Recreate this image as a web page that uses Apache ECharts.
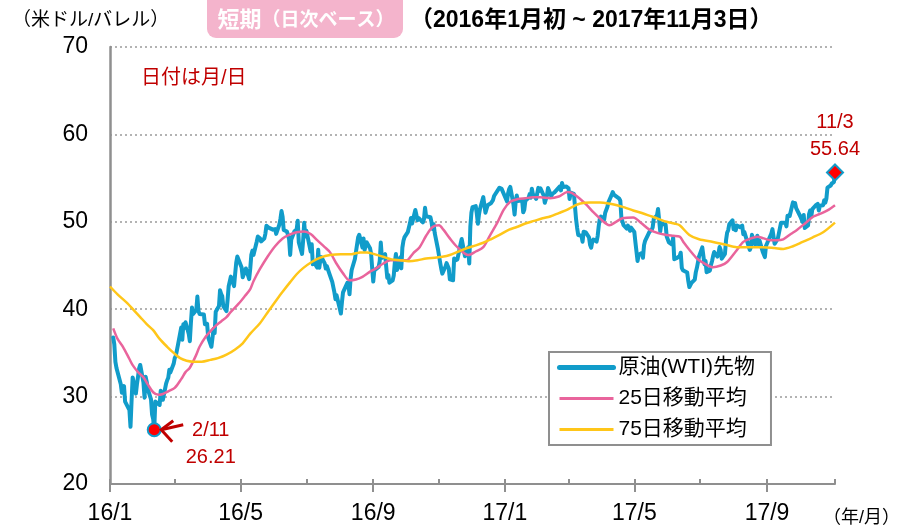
<!DOCTYPE html>
<html lang="ja">
<head>
<meta charset="utf-8">
<title>原油(WTI)先物 短期（日次ベース）</title>
<script src="https://cdn.jsdelivr.net/npm/echarts@6/dist/echarts.min.js"></script>
<style>
  html, body { margin: 0; padding: 0; background: #fff; }
  #chart { width: 900px; height: 532px; }
</style>
</head>
<body>
<div id="chart"></div>
<script>
// 原油(WTI)先物 終値（米ドル/バレル）
const wti2016 = [
  ['2016-01-04',36.76],['2016-01-05',35.97],['2016-01-06',33.97],['2016-01-07',33.27],['2016-01-08',33.16],
  ['2016-01-11',31.41],['2016-01-12',30.44],['2016-01-13',30.48],['2016-01-14',31.20],['2016-01-15',29.42],
  ['2016-01-19',28.46],['2016-01-20',26.55],['2016-01-21',29.53],['2016-01-22',32.19],
  ['2016-01-25',30.34],['2016-01-26',31.45],['2016-01-27',32.30],['2016-01-28',33.22],['2016-01-29',33.62],
  ['2016-02-01',31.62],['2016-02-02',29.88],['2016-02-03',32.28],['2016-02-04',31.72],['2016-02-05',30.89],
  ['2016-02-08',29.69],['2016-02-09',27.94],['2016-02-10',27.45],['2016-02-11',26.21],['2016-02-12',29.44],
  ['2016-02-16',29.04],['2016-02-17',30.66],['2016-02-18',30.77],['2016-02-19',29.64],
  ['2016-02-22',31.48],['2016-02-23',31.87],['2016-02-24',32.15],['2016-02-25',33.07],['2016-02-26',32.78],
  ['2016-02-29',33.75],['2016-03-01',34.40],['2016-03-02',34.66],['2016-03-03',34.57],['2016-03-04',35.92],
  ['2016-03-07',37.90],['2016-03-08',36.50],['2016-03-09',38.29],['2016-03-10',37.84],['2016-03-11',38.50],
  ['2016-03-14',37.18],['2016-03-15',36.34],['2016-03-16',38.46],['2016-03-17',40.20],['2016-03-18',39.44],
  ['2016-03-21',39.91],['2016-03-22',41.45],['2016-03-23',39.79],['2016-03-24',39.46],
  ['2016-03-28',39.39],['2016-03-29',38.28],['2016-03-30',38.32],['2016-03-31',38.34],['2016-04-01',36.79],
  ['2016-04-04',35.70],['2016-04-05',35.89],['2016-04-06',37.75],['2016-04-07',37.26],['2016-04-08',39.72],
  ['2016-04-11',40.36],['2016-04-12',42.17],['2016-04-13',41.76],['2016-04-14',41.50],['2016-04-15',40.36],
  ['2016-04-18',39.78],['2016-04-19',41.08],['2016-04-20',42.63],['2016-04-21',43.18],['2016-04-22',43.73],
  ['2016-04-25',42.64],['2016-04-26',44.04],['2016-04-27',45.33],['2016-04-28',46.03],['2016-04-29',45.92],
  ['2016-05-02',44.78],['2016-05-03',43.65],['2016-05-04',43.78],['2016-05-05',44.32],['2016-05-06',44.66],
  ['2016-05-09',43.44],['2016-05-10',44.66],['2016-05-11',46.23],['2016-05-12',46.70],['2016-05-13',46.21],
  ['2016-05-16',47.72],['2016-05-17',48.31],['2016-05-18',48.19],['2016-05-19',48.12],['2016-05-20',47.75],
  ['2016-05-23',48.08],['2016-05-24',48.62],['2016-05-25',49.56],['2016-05-26',49.48],['2016-05-27',49.33],
  ['2016-05-31',49.10],['2016-06-01',49.01],['2016-06-02',49.17],['2016-06-03',48.62],
  ['2016-06-06',49.69],['2016-06-07',50.36],['2016-06-08',51.23],['2016-06-09',50.56],['2016-06-10',49.07],
  ['2016-06-13',48.88],['2016-06-14',48.49],['2016-06-15',48.01],['2016-06-16',46.21],['2016-06-17',47.98],
  ['2016-06-20',48.92],['2016-06-21',48.85],['2016-06-22',49.13],['2016-06-23',50.11],['2016-06-24',47.64],
  ['2016-06-27',46.33],['2016-06-28',47.85],['2016-06-29',49.88],['2016-06-30',48.33],['2016-07-01',48.99],
  ['2016-07-05',46.60],['2016-07-06',47.43],['2016-07-07',45.14],['2016-07-08',45.41],
  ['2016-07-11',44.76],['2016-07-12',46.80],['2016-07-13',44.75],['2016-07-14',45.68],['2016-07-15',45.95],
  ['2016-07-18',45.24],['2016-07-19',44.65],['2016-07-20',44.94],['2016-07-21',44.75],['2016-07-22',44.19],
  ['2016-07-25',43.13],['2016-07-26',42.92],['2016-07-27',41.92],['2016-07-28',41.14],['2016-07-29',41.60],
  ['2016-08-01',40.06],['2016-08-02',39.51],['2016-08-03',40.83],['2016-08-04',41.93],['2016-08-05',41.80],
  ['2016-08-08',43.02],['2016-08-09',42.77],['2016-08-10',41.71],['2016-08-11',43.49],['2016-08-12',44.49],
  ['2016-08-15',45.74],['2016-08-16',46.58],['2016-08-17',46.79],['2016-08-18',48.22],['2016-08-19',48.52],
  ['2016-08-22',47.05],['2016-08-23',48.10],['2016-08-24',46.77],['2016-08-25',47.33],['2016-08-26',47.64],
  ['2016-08-29',46.98],['2016-08-30',46.35],['2016-08-31',44.70],['2016-09-01',43.16],['2016-09-02',44.44],
  ['2016-09-06',44.83],['2016-09-07',45.50],['2016-09-08',47.62],['2016-09-09',45.88],
  ['2016-09-12',46.29],['2016-09-13',44.90],['2016-09-14',43.58],['2016-09-15',43.91],['2016-09-16',43.03],
  ['2016-09-19',43.30],['2016-09-20',43.85],['2016-09-21',45.34],['2016-09-22',46.32],['2016-09-23',44.48],
  ['2016-09-26',45.93],['2016-09-27',44.67],['2016-09-28',47.05],['2016-09-29',47.83],['2016-09-30',48.24],
  ['2016-10-03',48.81],['2016-10-04',48.69],['2016-10-05',49.83],['2016-10-06',50.44],['2016-10-07',49.81],
  ['2016-10-10',51.35],['2016-10-11',50.79],['2016-10-12',50.18],['2016-10-13',50.44],['2016-10-14',50.35],
  ['2016-10-17',49.94],['2016-10-18',50.29],['2016-10-19',51.60],['2016-10-20',50.63],['2016-10-21',50.85],
  ['2016-10-24',50.52],['2016-10-25',49.96],['2016-10-26',49.18],['2016-10-27',49.72],['2016-10-28',48.70],
  ['2016-10-31',46.86],['2016-11-01',46.67],['2016-11-02',45.34],['2016-11-03',44.66],['2016-11-04',44.07],
  ['2016-11-07',44.89],['2016-11-08',45.27],['2016-11-09',45.27],['2016-11-10',44.66],['2016-11-11',43.41],
  ['2016-11-14',43.32],['2016-11-15',45.81],['2016-11-16',45.57],['2016-11-17',45.42],['2016-11-18',45.69],
  ['2016-11-21',47.49],['2016-11-22',48.03],['2016-11-23',47.96],['2016-11-25',46.06],
  ['2016-11-28',47.08],['2016-11-29',45.23],['2016-11-30',49.44],['2016-12-01',51.06],['2016-12-02',51.68],
  ['2016-12-05',51.79],['2016-12-06',50.93],['2016-12-07',49.77],['2016-12-08',50.84],['2016-12-09',51.50],
  ['2016-12-12',52.83],['2016-12-13',52.98],['2016-12-14',51.04],['2016-12-15',50.90],['2016-12-16',51.90],
  ['2016-12-19',52.12],['2016-12-20',52.23],['2016-12-21',52.49],['2016-12-22',52.95],['2016-12-23',53.02],
  ['2016-12-27',53.90],['2016-12-28',54.06],['2016-12-29',53.77],['2016-12-30',53.72]
];

const wti2017 = [
  ['2017-01-03',52.33],['2017-01-04',53.26],['2017-01-05',53.76],['2017-01-06',53.99],
  ['2017-01-09',51.96],['2017-01-10',50.82],['2017-01-11',52.25],['2017-01-12',53.01],['2017-01-13',52.37],
  ['2017-01-17',52.48],['2017-01-18',51.08],['2017-01-19',51.37],['2017-01-20',52.42],
  ['2017-01-23',52.75],['2017-01-24',53.18],['2017-01-25',52.75],['2017-01-26',53.78],['2017-01-27',53.17],
  ['2017-01-30',52.63],['2017-01-31',52.81],['2017-02-01',53.88],['2017-02-02',53.54],['2017-02-03',53.83],
  ['2017-02-06',53.01],['2017-02-07',52.17],['2017-02-08',52.34],['2017-02-09',53.00],['2017-02-10',53.86],
  ['2017-02-13',52.93],['2017-02-14',53.20],['2017-02-15',53.11],['2017-02-16',53.36],['2017-02-17',53.40],
  ['2017-02-21',54.06],['2017-02-22',53.59],['2017-02-23',54.45],['2017-02-24',53.99],
  ['2017-02-27',54.05],['2017-02-28',54.01],['2017-03-01',53.83],['2017-03-02',52.61],['2017-03-03',53.33],
  ['2017-03-06',53.20],['2017-03-07',53.14],['2017-03-08',50.28],['2017-03-09',49.28],['2017-03-10',48.49],
  ['2017-03-13',48.40],['2017-03-14',47.72],['2017-03-15',48.86],['2017-03-16',48.75],['2017-03-17',48.78],
  ['2017-03-20',48.22],['2017-03-21',47.34],['2017-03-22',47.04],['2017-03-23',47.70],['2017-03-24',47.97],
  ['2017-03-27',47.73],['2017-03-28',48.37],['2017-03-29',49.51],['2017-03-30',50.35],['2017-03-31',50.60],
  ['2017-04-03',50.24],['2017-04-04',51.03],['2017-04-05',51.15],['2017-04-06',51.70],['2017-04-07',52.24],
  ['2017-04-10',53.08],['2017-04-11',53.40],['2017-04-12',53.11],['2017-04-13',53.18],
  ['2017-04-17',52.65],['2017-04-18',52.41],['2017-04-19',50.44],['2017-04-20',50.27],['2017-04-21',49.62],
  ['2017-04-24',49.23],['2017-04-25',49.56],['2017-04-26',49.62],['2017-04-27',48.97],['2017-04-28',49.33],
  ['2017-05-01',48.84],['2017-05-02',47.66],['2017-05-03',47.82],['2017-05-04',45.52],['2017-05-05',46.22],
  ['2017-05-08',46.43],['2017-05-09',45.88],['2017-05-10',47.33],['2017-05-11',47.83],['2017-05-12',47.84],
  ['2017-05-15',48.85],['2017-05-16',48.66],['2017-05-17',49.07],['2017-05-18',49.35],['2017-05-19',50.33],
  ['2017-05-22',50.73],['2017-05-23',51.47],['2017-05-24',51.36],['2017-05-25',48.90],['2017-05-26',49.80],
  ['2017-05-30',49.66],['2017-05-31',48.32],['2017-06-01',48.36],['2017-06-02',47.66],
  ['2017-06-05',47.40],['2017-06-06',48.19],['2017-06-07',45.72],['2017-06-08',45.64],['2017-06-09',45.83],
  ['2017-06-12',46.08],['2017-06-13',46.46],['2017-06-14',44.73],['2017-06-15',44.46],['2017-06-16',44.68],
  ['2017-06-19',44.20],['2017-06-20',43.23],['2017-06-21',42.53],['2017-06-22',42.74],['2017-06-23',43.01],
  ['2017-06-26',43.38],['2017-06-27',44.24],['2017-06-28',44.74],['2017-06-29',44.93],['2017-06-30',46.04],
  ['2017-07-03',47.07],['2017-07-05',45.13],['2017-07-06',45.52],['2017-07-07',44.23],
  ['2017-07-10',44.40],['2017-07-11',45.04],['2017-07-12',45.49],['2017-07-13',46.08],['2017-07-14',46.54],
  ['2017-07-17',46.02],['2017-07-18',46.40],['2017-07-19',47.12],['2017-07-20',46.79],['2017-07-21',45.77],
  ['2017-07-24',46.34],['2017-07-25',47.89],['2017-07-26',48.75],['2017-07-27',49.04],['2017-07-28',49.71],
  ['2017-07-31',50.17],['2017-08-01',49.16],['2017-08-02',49.59],['2017-08-03',49.03],['2017-08-04',49.58],
  ['2017-08-07',49.39],['2017-08-08',49.17],['2017-08-09',49.56],['2017-08-10',48.59],['2017-08-11',48.82],
  ['2017-08-14',47.59],['2017-08-15',47.55],['2017-08-16',46.78],['2017-08-17',47.09],['2017-08-18',48.51],
  ['2017-08-21',47.37],['2017-08-22',47.64],['2017-08-23',48.41],['2017-08-24',47.43],['2017-08-25',47.87],
  ['2017-08-28',46.57],['2017-08-29',46.44],['2017-08-30',45.96],['2017-08-31',47.23],['2017-09-01',47.29],
  ['2017-09-05',48.66],['2017-09-06',49.16],['2017-09-07',49.09],['2017-09-08',47.48],
  ['2017-09-11',48.07],['2017-09-12',48.23],['2017-09-13',49.30],['2017-09-14',49.89],['2017-09-15',49.89],
  ['2017-09-18',49.91],['2017-09-19',49.48],['2017-09-20',50.69],['2017-09-21',50.55],['2017-09-22',50.66],
  ['2017-09-25',52.22],['2017-09-26',51.88],['2017-09-27',52.14],['2017-09-28',51.56],['2017-09-29',51.67],
  ['2017-10-02',50.58],['2017-10-03',50.42],['2017-10-04',49.98],['2017-10-05',50.79],['2017-10-06',49.29],
  ['2017-10-09',49.58],['2017-10-10',50.92],['2017-10-11',51.30],['2017-10-12',50.60],['2017-10-13',51.45],
  ['2017-10-16',51.87],['2017-10-17',51.88],['2017-10-18',52.04],['2017-10-19',51.29],['2017-10-20',51.84],
  ['2017-10-23',51.90],['2017-10-24',52.47],['2017-10-25',52.18],['2017-10-26',52.64],['2017-10-27',53.90],
  ['2017-10-30',54.15],['2017-10-31',54.38],['2017-11-01',54.30],['2017-11-02',54.54],['2017-11-03',55.64]
];

// 25日移動平均（グラフから読み取り、ほぼ週ごと）
const ma25 = [
  ['2016-01-04',37.8],['2016-01-08',36.6],['2016-01-13',35.7],['2016-01-19',34.3],['2016-01-22',33.6],
  ['2016-01-27',32.8],['2016-02-01',32.2],['2016-02-05',31.4],['2016-02-10',30.5],['2016-02-15',30.2],
  ['2016-02-19',30.3],['2016-02-24',30.6],['2016-03-01',31.0],['2016-03-07',32.0],['2016-03-11',32.8],
  ['2016-03-15',33.3],['2016-03-21',34.8],['2016-03-24',35.7],['2016-03-30',36.9],['2016-04-04',37.6],
  ['2016-04-08',38.1],['2016-04-13',38.6],['2016-04-18',39.1],['2016-04-22',39.7],['2016-04-29',40.6],
  ['2016-05-05',41.5],['2016-05-10',42.3],['2016-05-13',43.2],['2016-05-19',44.6],['2016-05-26',46.0],
  ['2016-06-02',47.2],['2016-06-09',48.1],['2016-06-15',48.5],['2016-06-22',48.8],['2016-06-29',48.9],
  ['2016-07-05',48.6],['2016-07-11',47.9],['2016-07-18',47.1],['2016-07-23',46.5],['2016-07-29',45.2],
  ['2016-08-04',44.1],['2016-08-10',43.3],['2016-08-16',43.4],['2016-08-22',43.7],['2016-08-29',44.3],
  ['2016-09-04',44.7],['2016-09-10',45.2],['2016-09-17',45.6],['2016-09-24',45.6],['2016-10-02',45.6],
  ['2016-10-08',46.4],['2016-10-14',47.1],['2016-10-20',48.4],['2016-10-26',49.4],['2016-11-01',49.6],
  ['2016-11-05',49.1],['2016-11-11',48.1],['2016-11-18',47.1],['2016-11-28',46.2],['2016-12-05',46.6],
  ['2016-12-12',47.1],['2016-12-18',48.4],['2016-12-25',49.9],['2016-12-31',51.4],['2017-01-06',52.3],
  ['2017-01-13',52.6],['2017-01-20',52.7],['2017-01-27',52.8],['2017-02-03',52.8],['2017-02-12',52.7],
  ['2017-02-20',52.9],['2017-02-28',53.4],['2017-03-04',53.3],['2017-03-11',52.7],['2017-03-18',51.9],
  ['2017-03-24',51.1],['2017-03-30',50.4],['2017-04-08',49.6],['2017-04-14',50.0],['2017-04-20',50.4],
  ['2017-04-30',50.5],['2017-05-07',49.9],['2017-05-15',49.1],['2017-05-23',48.7],['2017-05-31',48.5],
  ['2017-06-06',48.4],['2017-06-12',48.3],['2017-06-16',47.6],['2017-06-21',46.8],['2017-06-28',45.8],
  ['2017-07-04',45.3],['2017-07-13',44.8],['2017-07-20',45.0],['2017-07-26',45.4],['2017-08-03',46.6],
  ['2017-08-10',47.7],['2017-08-17',48.1],['2017-08-23',48.3],['2017-08-29',48.1],['2017-09-04',47.9],
  ['2017-09-10',47.9],['2017-09-16',48.0],['2017-09-23',48.6],['2017-09-29',49.1],['2017-10-07',49.9],
  ['2017-10-14',50.6],['2017-10-20',50.9],['2017-10-27',51.3],['2017-11-03',51.9]
];

// 75日移動平均（グラフから読み取り、ほぼ週ごと）
const ma75 = [
  ['2016-01-01',42.6],['2016-01-08',41.7],['2016-01-17',40.7],['2016-01-23',39.9],['2016-01-29',39.1],
  ['2016-02-04',38.3],['2016-02-10',37.6],['2016-02-16',36.6],['2016-02-23',35.7],['2016-02-29',35.0],
  ['2016-03-06',34.4],['2016-03-12',34.1],['2016-03-18',34.0],['2016-03-26',34.0],['2016-04-03',34.2],
  ['2016-04-10',34.4],['2016-04-18',34.8],['2016-04-26',35.4],['2016-05-03',36.1],['2016-05-10',37.2],
  ['2016-05-19',38.4],['2016-05-27',39.8],['2016-06-03',41.0],['2016-06-09',42.0],['2016-06-16',43.1],
  ['2016-06-22',44.0],['2016-06-28',44.7],['2016-07-06',45.4],['2016-07-14',45.9],['2016-07-23',46.2],
  ['2016-08-02',46.3],['2016-08-12',46.3],['2016-08-20',46.5],['2016-08-26',46.5],['2016-09-02',46.3],
  ['2016-09-10',46.0],['2016-09-18',45.7],['2016-09-26',45.6],['2016-10-04',45.5],['2016-10-12',45.6],
  ['2016-10-20',45.8],['2016-10-28',45.9],['2016-11-04',46.0],['2016-11-11',46.2],['2016-11-19',46.6],
  ['2016-11-27',47.0],['2016-12-05',47.3],['2016-12-12',47.6],['2016-12-19',48.0],['2016-12-27',48.5],
  ['2017-01-05',49.1],['2017-01-12',49.4],['2017-01-20',49.8],['2017-01-28',50.1],['2017-02-05',50.4],
  ['2017-02-12',50.6],['2017-02-20',51.0],['2017-02-28',51.4],['2017-03-06',51.8],['2017-03-12',52.1],
  ['2017-03-21',52.2],['2017-03-30',52.2],['2017-04-07',52.1],['2017-04-15',51.9],['2017-04-23',51.6],
  ['2017-04-30',51.3],['2017-05-08',51.0],['2017-05-15',50.7],['2017-05-22',50.4],['2017-05-31',50.0],
  ['2017-06-07',49.8],['2017-06-12',49.6],['2017-06-21',48.5],['2017-06-30',48.0],['2017-07-13',47.7],
  ['2017-07-24',47.4],['2017-08-04',47.1],['2017-08-16',47.1],['2017-08-28',47.1],['2017-09-08',47.0],
  ['2017-09-16',46.9],['2017-09-25',47.2],['2017-10-04',47.7],['2017-10-13',48.2],['2017-10-23',48.8],
  ['2017-11-03',49.9]
];

const lowPoint = ['2016-02-11', 26.21];
const lastPoint = ['2017-11-03', 55.64];

const axisStart = '2016-01-01';
const axisEnd = '2017-11-03';
const labelMonths = ['2016-01-01', '2016-05-01', '2016-09-01', '2017-01-01', '2017-05-01', '2017-09-01'];
const minorMonths = ['2016-03-01', '2016-07-01', '2016-11-01', '2017-03-01', '2017-07-01', '2017-11-03'];
const seriesNames = ['原油(WTI)先物', '25日移動平均', '75日移動平均'];

const BLUE = '#119cca';
const PINK = '#e9649c';
const YELLOW = '#ffc619';
const RED = '#c00000';
const AXIS_GRAY = '#8f8f8f';
const FONT = '"Liberation Sans", Arial, "Noto Sans CJK JP", sans-serif';

// 日付文字列 -> タイムスタンプ（ローカル時刻）
const toTime = s => {
  const [y, m, d] = s.split('-').map(Number);
  return new Date(y, m - 1, d).getTime();
};
const withTime = rows => rows.map(r => [toTime(r[0]), r[1]]);
const monthLabel = v => {
  const d = new Date(v);
  return String(d.getFullYear()).slice(2) + '/' + (d.getMonth() + 1);
};
const dayLabel = v => {
  const d = new Date(v);
  return (d.getMonth() + 1) + '/' + d.getDate();
};

const chart = echarts.init(document.getElementById('chart'));

const option = {
  animation: false,
  textStyle: { fontFamily: FONT },
  grid: { left: 110, right: 65, top: 47, bottom: 48 },
  xAxis: [
    {
      type: 'value',
      min: toTime(axisStart),
      max: toTime(axisEnd),
      axisLine: { lineStyle: { color: AXIS_GRAY, width: 2 } },
      axisTick: { customValues: labelMonths.map(toTime), length: 8, lineStyle: { color: AXIS_GRAY, width: 2 } },
      axisLabel: {
        customValues: labelMonths.map(toTime),
        formatter: monthLabel,
        fontSize: 23, color: '#000', margin: 18, fontFamily: FONT
      },
      splitLine: { show: false }
    },
    {
      // 内側の短い目盛（2か月ごと）
      type: 'value',
      position: 'bottom',
      min: toTime(axisStart),
      max: toTime(axisEnd),
      axisLine: { show: false },
      axisLabel: { show: false },
      splitLine: { show: false },
      axisTick: {
        inside: true, length: 5,
        customValues: labelMonths.concat(minorMonths).map(toTime),
        lineStyle: { color: AXIS_GRAY, width: 2 }
      }
    }
  ],
  yAxis: {
    type: 'value',
    min: 20, max: 70, interval: 10,
    axisLine: { show: true, lineStyle: { color: AXIS_GRAY, width: 2.5 } },
    axisTick: { show: false },
    axisLabel: { fontSize: 23, color: '#000', margin: 22, fontFamily: FONT },
    splitLine: { lineStyle: { type: [2, 3], color: '#9a9a9a', width: 1.5 } }
  },
  legend: {
    orient: 'vertical',
    left: 549, top: 352,
    padding: [5, 16, 5, 8],
    itemGap: 10,
    itemWidth: 54, itemHeight: 14,
    backgroundColor: '#fff',
    borderColor: AXIS_GRAY, borderWidth: 2, borderRadius: 0,
    textStyle: { fontSize: 21, color: '#000', fontFamily: FONT },
    data: [
      { name: seriesNames[0], lineStyle: { width: 5 }, itemStyle: { opacity: 0 } },
      { name: seriesNames[1], lineStyle: { width: 3 }, itemStyle: { opacity: 0 } },
      { name: seriesNames[2], lineStyle: { width: 3 }, itemStyle: { opacity: 0 } }
    ]
  },
  graphic: [
    { id: 'unit', type: 'text', x: 12, y: 21,
      style: { text: '（米ドル/バレル）', fontSize: 19, fontFamily: FONT, fill: '#000', verticalAlign: 'middle' } },
    { id: 'badge', type: 'rect', shape: { x: 207, y: -10, width: 196, height: 48, r: 9 },
      style: { fill: '#f4b4cc' } },
    { id: 'badgeText', type: 'text', x: 306, y: 21,
      style: {
        text: '{a|短期}{b|（日次ベース）}',
        align: 'center', verticalAlign: 'middle',
        rich: {
          a: { fontSize: 22, fontWeight: 'bold', fill: '#fff', fontFamily: FONT },
          b: { fontSize: 19, fontWeight: 'bold', fill: '#fff', fontFamily: FONT }
        }
      } },
    { id: 'period', type: 'text', x: 410, y: 21,
      style: { text: '（2016年1月初 ~ 2017年11月3日）', fontSize: 23, fontWeight: 'bold',
               fontFamily: FONT, fill: '#000', verticalAlign: 'middle' } },
    { id: 'note', type: 'text', x: 141, y: 78,
      style: { text: '日付は月/日', fontSize: 20, fontFamily: FONT, fill: RED, verticalAlign: 'middle' } },
    { id: 'xunit', type: 'text', x: 823, y: 518,
      style: { text: '（年/月）', fontSize: 18, fontFamily: FONT, fill: '#000', verticalAlign: 'middle' } }
  ],
  series: [
    {
      name: seriesNames[0],
      type: 'line',
      data: withTime(wti2016.concat(wti2017)),
      symbol: 'none',
      lineStyle: { color: BLUE, width: 4, cap: 'round', join: 'round' },
      itemStyle: { color: BLUE }
    },
    {
      name: seriesNames[1],
      type: 'line',
      data: withTime(ma25),
      symbol: 'none',
      smooth: 0.3,
      lineStyle: { color: PINK, width: 2.5 },
      itemStyle: { color: PINK }
    },
    {
      name: seriesNames[2],
      type: 'line',
      data: withTime(ma75),
      symbol: 'none',
      smooth: 0.3,
      lineStyle: { color: YELLOW, width: 2.5 },
      itemStyle: { color: YELLOW }
    },
    {
      type: 'scatter',
      data: withTime([lowPoint]),
      symbol: 'circle',
      symbolSize: 13,
      z: 5,
      itemStyle: { color: '#ff0000', borderColor: BLUE, borderWidth: 2, opacity: 1 },
      label: {
        show: true,
        position: [64, -5],
        align: 'center', verticalAlign: 'top',
        fontSize: 20, lineHeight: 27, color: RED, fontFamily: FONT,
        formatter: p => dayLabel(p.value[0]) + '\n' + p.value[1].toFixed(2)
      }
    },
    {
      type: 'scatter',
      data: withTime([lastPoint]),
      symbol: 'diamond',
      symbolSize: 16,
      z: 5,
      itemStyle: { color: '#ff0000', borderColor: BLUE, borderWidth: 2, opacity: 1 },
      label: {
        show: true,
        position: 'top', distance: 1,
        fontSize: 20, lineHeight: 27, color: RED, fontFamily: FONT,
        formatter: p => dayLabel(p.value[0]) + '\n' + p.value[1].toFixed(2)
      }
    }
  ]
};

chart.setOption(option);

// 安値を指す矢印
const p = chart.convertToPixel({ xAxisIndex: 0, yAxisIndex: 0 }, [toTime(lowPoint[0]), lowPoint[1]]);
chart.setOption({
  graphic: [
    { id: 'arrowShaft', type: 'polyline', z: 10,
      shape: { points: [[p[0] + 7, p[1]], [p[0] + 29, p[1] - 5]] },
      style: { stroke: RED, lineWidth: 3, fill: null } },
    { id: 'arrowHead', type: 'polyline', z: 10,
      shape: { points: [[p[0] + 19, p[1] - 9], [p[0] + 7, p[1]], [p[0] + 18, p[1] + 12]] },
      style: { stroke: RED, lineWidth: 3, fill: null } }
  ]
});
</script>
</body>
</html>
